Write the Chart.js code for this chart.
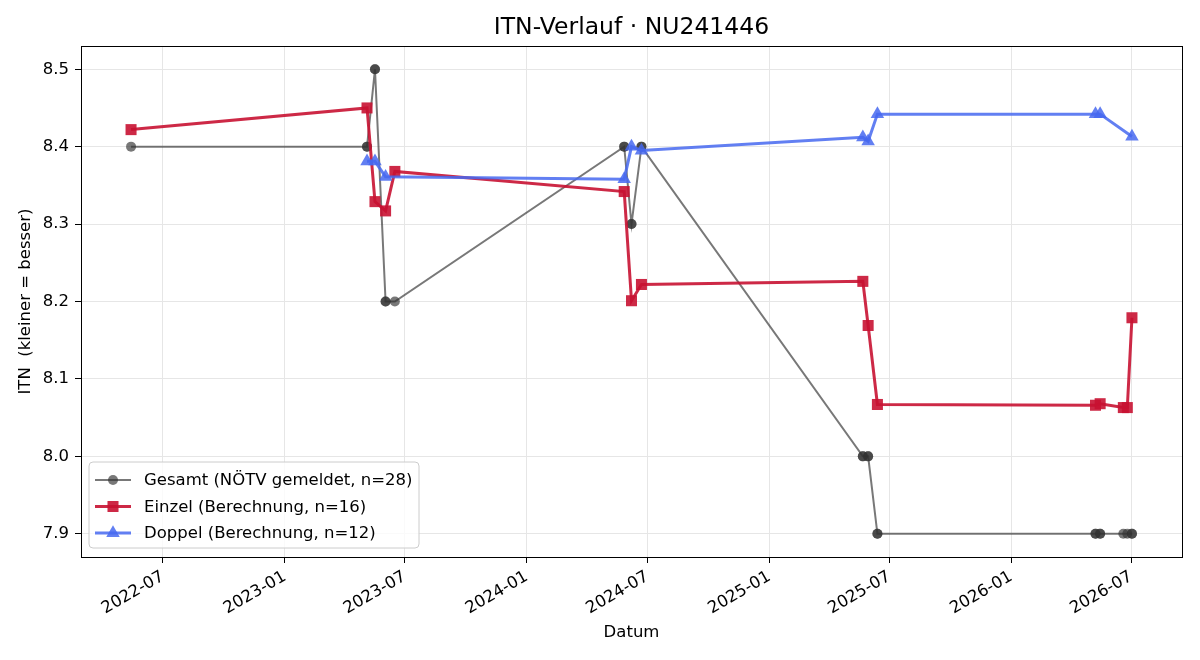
<!DOCTYPE html>
<html>
<head>
<meta charset="utf-8">
<title>ITN-Verlauf</title>
<script src="https://cdn.jsdelivr.net/npm/chart.js@4.4.1/dist/chart.umd.min.js"></script>
<style>
  html, body { margin: 0; padding: 0; background: #fff; }
  #wrap { width: 1200px; height: 660px; }
</style>
</head>
<body>
<div id="wrap"><canvas id="chart-canvas" width="1200" height="660"></canvas></div>
<script>
// values
const gesamtDates = [
  "2022-05-14", "2023-05-05", "2023-05-05", "2023-05-17", "2023-05-17",
  "2023-06-02", "2023-06-02", "2023-06-16", "2024-05-27", "2024-05-27",
  "2024-06-07", "2024-06-07", "2024-06-22", "2024-06-22", "2025-05-22",
  "2025-05-22", "2025-05-30", "2025-05-30", "2025-06-13", "2025-06-13",
  "2026-05-08", "2026-05-08", "2026-05-15", "2026-05-15", "2026-06-19",
  "2026-06-25", "2026-07-02", "2026-07-02",
];
const gesamtValues = [
  8.4, 8.4, 8.4, 8.5, 8.5,
  8.2, 8.2, 8.2, 8.4, 8.4,
  8.3, 8.3, 8.4, 8.4, 8.0,
  8.0, 8.0, 8.0, 7.9, 7.9,
  7.9, 7.9, 7.9, 7.9, 7.9,
  7.9, 7.9, 7.9,
];

const einzelDates = [
  "2022-05-14", "2023-05-05", "2023-05-17", "2023-06-02", "2023-06-16",
  "2024-05-27", "2024-06-07", "2024-06-22", "2025-05-22", "2025-05-30",
  "2025-06-13", "2026-05-08", "2026-05-15", "2026-06-19", "2026-06-25",
  "2026-07-02",
];
const einzelValues = [
  8.422, 8.45, 8.329, 8.317, 8.368,
  8.342, 8.201, 8.222, 8.226, 8.169,
  8.067, 8.066, 8.068, 8.063, 8.063,
  8.179,
];

const doppelDates = [
  "2023-05-05", "2023-05-17", "2023-06-02", "2024-05-27", "2024-06-07",
  "2024-06-22", "2025-05-22", "2025-05-30", "2025-06-13", "2026-05-08",
  "2026-05-15", "2026-07-02",
];
const doppelValues = [
  8.381, 8.381, 8.361, 8.358, 8.4,
  8.395, 8.412, 8.407, 8.442, 8.442,
  8.442, 8.413,
];

const xTickLabels = [
  "2022-07", "2023-01", "2023-07", "2024-01", "2024-07",
  "2025-01", "2025-07", "2026-01", "2026-07",
];
const yTickValues = [7.9, 8.0, 8.1, 8.2, 8.3, 8.4, 8.5];
const titleText = "ITN-Verlauf · NU241446";

const FONT = "'DejaVu Sans', 'Liberation Sans', sans-serif";
Chart.defaults.font.family = FONT;
Chart.defaults.color = "#000";

const toPoints = (ds, vs) => ds.map((d, i) => ({ x: Date.parse(d), y: vs[i] }));

// matplotlib style 5% margins
const allX = gesamtDates.map((d) => Date.parse(d));
const xFirst = Math.min(...allX);
const xLast = Math.max(...allX);
const xSpan = xLast - xFirst;
const yLow = Math.min(...yTickValues);
const yHigh = Math.max(...yTickValues);
const ySpan = yHigh - yLow;

// box round the plot area (all four spines) + title centred over the plot
const framePlugin = {
  id: "frame",
  afterDatasetsDraw(chart) {
    const { ctx, chartArea: a } = chart;
    ctx.save();
    ctx.strokeStyle = "#000";
    ctx.lineWidth = 1;
    ctx.strokeRect(Math.round(a.left) + 0.5, Math.round(a.top) + 0.5,
      Math.round(a.right - a.left), Math.round(a.bottom - a.top));
    ctx.font = "23.5px " + FONT;
    ctx.fillStyle = "#000";
    ctx.textAlign = "center";
    ctx.textBaseline = "middle";
    ctx.fillText(titleText, (a.left + a.right) / 2, 28);
    ctx.restore();
  },
};

// legend inside the plot, lower left
const legendPlugin = {
  id: "innerLegend",
  afterDraw(chart) {
    const { ctx, chartArea: a } = chart;
    const x0 = a.left + 8;
    const y0 = a.bottom - 95;
    const w = 330;
    const h = 86;
    const r = 4;
    ctx.save();
    ctx.beginPath();
    ctx.moveTo(x0 + r, y0);
    ctx.arcTo(x0 + w, y0, x0 + w, y0 + h, r);
    ctx.arcTo(x0 + w, y0 + h, x0, y0 + h, r);
    ctx.arcTo(x0, y0 + h, x0, y0, r);
    ctx.arcTo(x0, y0, x0 + w, y0, r);
    ctx.closePath();
    ctx.fillStyle = "rgba(255,255,255,0.8)";
    ctx.fill();
    ctx.strokeStyle = "#cccccc";
    ctx.lineWidth = 1;
    ctx.stroke();

    ctx.font = "16.5px " + FONT;
    ctx.textBaseline = "middle";
    ctx.textAlign = "left";
    chart.data.datasets.forEach((ds, i) => {
      const cy = y0 + 18 + i * 26.5;
      ctx.strokeStyle = ds.borderColor;
      ctx.lineWidth = ds.borderWidth;
      ctx.beginPath();
      ctx.moveTo(x0 + 6, cy);
      ctx.lineTo(x0 + 42, cy);
      ctx.stroke();
      ctx.fillStyle = ds.pointBackgroundColor;
      Chart.helpers.drawPoint(ctx, {
        pointStyle: ds.pointStyle,
        radius: ds.pointRadius,
        rotation: 0,
        borderWidth: 0,
      }, x0 + 24, cy);
      ctx.fillStyle = "#000";
      ctx.fillText(ds.label, x0 + 55, cy + 1);
    });
    ctx.restore();
  },
};

const gray = "rgba(50,50,50,0.66)";
const red = "rgba(200,18,50,0.9)";
const blue = "rgba(70,105,240,0.85)";

const ctx = document.getElementById("chart-canvas").getContext("2d");
const chart = new Chart(ctx, {
  type: "line",
  data: {
    datasets: [
      {
        label: "Gesamt (NÖTV gemeldet, n=28)",
        data: toPoints(gesamtDates, gesamtValues),
        borderColor: gray,
        backgroundColor: gray,
        pointBackgroundColor: gray,
        pointBorderColor: gray,
        borderWidth: 2,
        pointStyle: "circle",
        pointRadius: 5,
        pointBorderWidth: 0,
        order: 3,
      },
      {
        label: "Einzel (Berechnung, n=16)",
        data: toPoints(einzelDates, einzelValues),
        borderColor: red,
        backgroundColor: red,
        pointBackgroundColor: red,
        pointBorderColor: red,
        borderWidth: 3,
        pointStyle: "rect",
        pointRadius: 7.8,
        pointBorderWidth: 0,
        order: 2,
      },
      {
        label: "Doppel (Berechnung, n=12)",
        data: toPoints(doppelDates, doppelValues),
        borderColor: blue,
        backgroundColor: blue,
        pointBackgroundColor: blue,
        pointBorderColor: blue,
        borderWidth: 3,
        pointStyle: "triangle",
        pointRadius: 7.8,
        pointBorderWidth: 0,
        order: 1,
      },
    ],
  },
  options: {
    responsive: false,
    animation: false,
    devicePixelRatio: 1,
    layout: { autoPadding: false, padding: { left: 0, right: 18, top: 46, bottom: 0 } },
    elements: { line: { tension: 0 } },
    plugins: {
      legend: { display: false },
      tooltip: { enabled: false },
      title: { display: false },
    },
    scales: {
      x: {
        type: "linear",
        min: xFirst - 0.05 * xSpan,
        max: xLast + 0.05 * xSpan,
        afterBuildTicks: (s) => {
          s.ticks = xTickLabels.map((l) => ({ value: Date.parse(l + "-01") }));
        },
        afterFit: (s) => { s.height = 103; },
        ticks: {
          autoSkip: false,
          minRotation: 30,
          maxRotation: 30,
          padding: 4,
          font: { size: 16.5 },
          color: "#000",
          callback: (v, i) => xTickLabels[i],
        },
        grid: { color: "#e6e6e6", tickColor: "#000", tickLength: 6 },
        border: { color: "#000", width: 1 },
        title: {
          display: true,
          text: "Datum",
          color: "#000",
          font: { size: 16.5 },
          padding: { top: 0, bottom: 17 },
        },
      },
      y: {
        type: "linear",
        min: yLow - 0.05 * ySpan,
        max: yHigh + 0.05 * ySpan,
        afterBuildTicks: (s) => {
          s.ticks = yTickValues.map((v) => ({ value: v }));
        },
        afterFit: (s) => { s.width = 81; },
        ticks: {
          padding: 6,
          font: { size: 16.5 },
          color: "#000",
          callback: (v) => Number(v).toFixed(1),
        },
        grid: { color: "#e6e6e6", tickColor: "#000", tickLength: 6 },
        border: { color: "#000", width: 1 },
        title: {
          display: true,
          text: "ITN  (kleiner = besser)",
          color: "#000",
          font: { size: 16.5 },
          padding: { top: 16, bottom: 0 },
        },
      },
    },
  },
  plugins: [framePlugin, legendPlugin],
});
</script>
</body>
</html>
